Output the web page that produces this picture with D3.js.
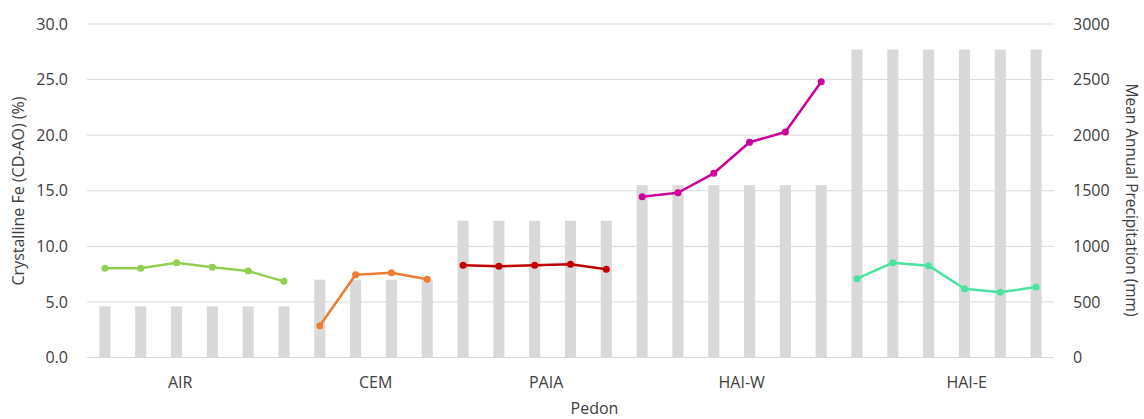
<!DOCTYPE html>
<html>
<head>
<meta charset="utf-8">
<script src="https://cdn.jsdelivr.net/npm/d3@7"></script>
<style>
  html, body { margin: 0; padding: 0; background: #fff; }
  svg text { font-family: "Open Sans", "Liberation Sans", sans-serif; fill: #404040; }
</style>
</head>
<body>
<svg id="chart" width="1144" height="419"></svg>
<script>
// Pedon groups, their sample counts and line colours
const pedons = ["AIR", "CEM", "PAIA", "HAI-W", "HAI-E"];
const pedonColors = ["#92d050", "#ed7d31", "#c00000", "#cc0099", "#4be3a0"];
// Where each pedon label sits along the sample axis (in sample units)
const pedonTickAt = [2.6, 8.06, 12.82, 18.28, 24.56];

// Crystalline Fe (CD-AO), % — one array per pedon
const feAIR  = [8.02, 8.02, 8.53, 8.11, 7.78, 6.85];
const feCEM  = [2.86, 7.45, 7.63, 7.03];
const fePAIA = [8.29, 8.20, 8.29, 8.38, 7.93];
const feHAIW = [14.46, 14.82, 16.57, 19.36, 20.28, 24.81];
const feHAIE = [7.09, 8.53, 8.26, 6.19, 5.86, 6.34];

// Mean annual precipitation (mm) at each pedon
const mapByPedon = [460, 700, 1230, 1550, 2770];

const leftTicks = [0, 5, 10, 15, 20, 25, 30];
const rightTicks = [0, 500, 1000, 1500, 2000, 2500, 3000];

const feSeries = [feAIR, feCEM, fePAIA, feHAIW, feHAIE];

// Flatten into one row per sample
const samples = [];
feSeries.forEach((arr, g) => {
  arr.forEach((v, i) => samples.push({ id: pedons[g] + "-" + (i + 1), group: g, fe: v, map: mapByPedon[g] }));
});

const svg = d3.select("#chart");
const plotL = 87, plotR = 1054, plotT = 24, plotB = 357.5;

const x = d3.scaleBand().domain(samples.map(d => d.id)).range([plotL, plotR]).padding(0);
const xLin = d3.scaleLinear().domain([0, samples.length]).range([plotL, plotR]);
const yL = d3.scaleLinear().domain([0, 30]).range([plotB, plotT]);
const yR = d3.scaleLinear().domain([0, 3000]).range([plotB, plotT]);

// Gridlines
svg.append("g").selectAll("line").data(leftTicks).join("line")
  .attr("x1", plotL).attr("x2", plotR)
  .attr("y1", d => yL(d)).attr("y2", d => yL(d))
  .attr("stroke", "#d9d9d9").attr("stroke-width", 1);

// Precipitation bars
const barW = x.bandwidth() * 0.31;
svg.append("g").selectAll("rect").data(samples).join("rect")
  .attr("x", d => x(d.id) + (x.bandwidth() - barW) / 2)
  .attr("width", barW)
  .attr("y", d => yR(d.map))
  .attr("height", d => yR(0) - yR(d.map))
  .attr("fill", "#d9d9d9");

// Fe lines per pedon
const cx = d => x(d.id) + x.bandwidth() / 2;
const line = d3.line().x(cx).y(d => yL(d.fe));
pedons.forEach((p, g) => {
  const pts = samples.filter(d => d.group === g);
  const grp = svg.append("g");
  grp.append("path").datum(pts)
    .attr("d", line).attr("fill", "none")
    .attr("stroke", pedonColors[g]).attr("stroke-width", 2.5)
    .attr("stroke-linejoin", "round");
  grp.selectAll("circle").data(pts).join("circle")
    .attr("cx", cx).attr("cy", d => yL(d.fe)).attr("r", 3.5)
    .attr("fill", pedonColors[g]);
});

// Left axis labels
svg.append("g").selectAll("text").data(leftTicks).join("text")
  .attr("x", 68).attr("y", d => yL(d)).attr("dy", "0.35em")
  .attr("text-anchor", "end").attr("font-size", 16)
  .text(d => d3.format(".1f")(d));

// Right axis labels
svg.append("g").selectAll("text").data(rightTicks).join("text")
  .attr("x", 1073).attr("y", d => yR(d)).attr("dy", "0.35em")
  .attr("text-anchor", "start").attr("font-size", 16)
  .text(d => d);

// Pedon labels
svg.append("g").selectAll("text").data(pedons).join("text")
  .attr("x", (d, i) => xLin(pedonTickAt[i])).attr("y", 388)
  .attr("text-anchor", "middle").attr("font-size", 16)
  .text(d => d);

// Axis titles
svg.append("text").attr("x", 594.5).attr("y", 414)
  .attr("text-anchor", "middle").attr("font-size", 16).text("Pedon");
svg.append("text")
  .attr("transform", "translate(24,191) rotate(-90)")
  .attr("text-anchor", "middle").attr("font-size", 16)
  .text("Crystalline Fe (CD-AO) (%)");
svg.append("text")
  .attr("transform", "translate(1126,200) rotate(90)")
  .attr("text-anchor", "middle").attr("font-size", 15.5)
  .text("Mean Annual Precipitation (mm)");
</script>
</body>
</html>
